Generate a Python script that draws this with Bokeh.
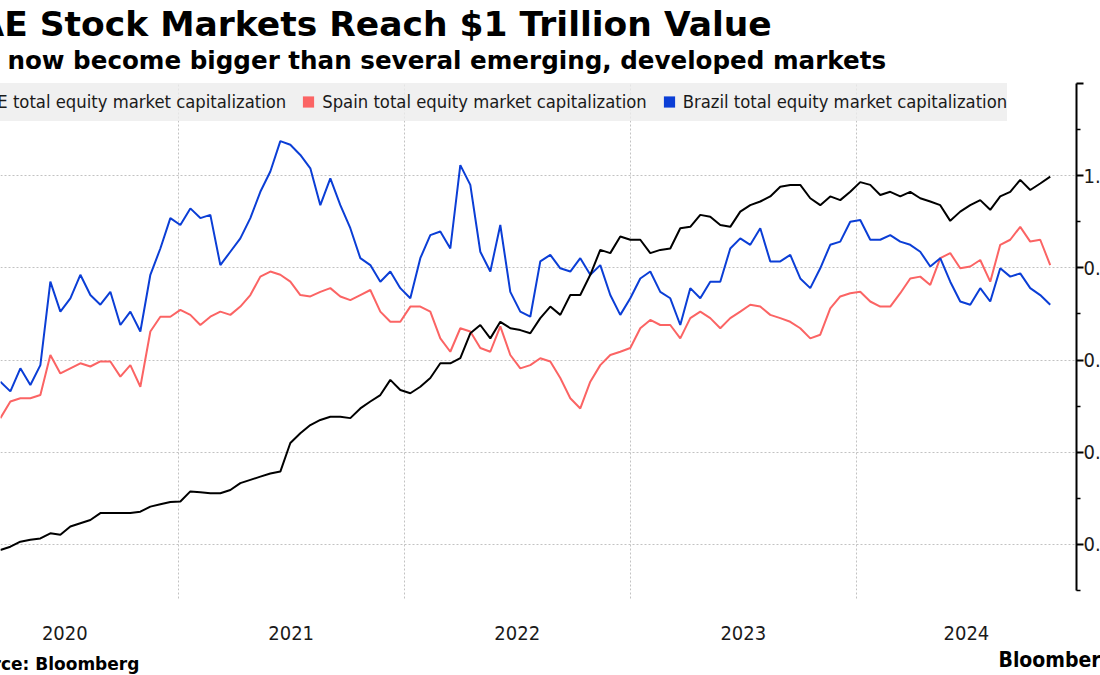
import pandas as pd
from bokeh.plotting import figure
from bokeh.models import (Range1d, LinearAxis, FixedTicker, Grid, Label, Legend, LegendItem,
                          PrintfTickFormatter, CustomJSTickFormatter, ColumnDataSource,
                          GlobalInlineStyleSheet)
from bokeh.embed import file_html
from bokeh.resources import INLINE

# ---------------- data (USD trillions) ----------------
title_text = "UAE Stock Markets Reach $1 Trillion Value"
subtitle_text = "UAE has now become bigger than several emerging, developed markets"
source_text = "Source: Bloomberg"
brand_text = "Bloomberg"
series_names = ["UAE total equity market capitalization",
                "Spain total equity market capitalization",
                "Brazil total equity market capitalization"]

first_date = "2020-03-20"
last_date = "2024-11-09"

uae = [0.188, 0.195, 0.206, 0.210, 0.213, 0.224, 0.221, 0.239, 0.246, 0.253,
       0.268, 0.268, 0.268, 0.268, 0.271, 0.282, 0.287, 0.292, 0.293, 0.315,
       0.313, 0.311, 0.311, 0.318, 0.333, 0.340, 0.347, 0.354, 0.358,
       0.420, 0.441, 0.459, 0.470, 0.477, 0.477, 0.474, 0.495, 0.510, 0.524,
       0.557, 0.535, 0.528, 0.542, 0.561, 0.593, 0.593, 0.604, 0.658, 0.676,
       0.647, 0.683, 0.669, 0.665, 0.658, 0.691,
       0.716, 0.698, 0.741, 0.741, 0.785, 0.839, 0.832, 0.868, 0.861, 0.861,
       0.832, 0.839, 0.842, 0.886, 0.889, 0.915, 0.911, 0.893, 0.889, 0.922,
       0.936, 0.944, 0.955, 0.976, 0.980, 0.980, 0.951,
       0.936, 0.955, 0.947, 0.965, 0.986, 0.980, 0.958, 0.965, 0.955, 0.965,
       0.951, 0.944, 0.936, 0.902, 0.922, 0.936, 0.947, 0.926, 0.955, 0.965,
       0.991, 0.969, 0.983, 0.998]

spain = [0.474, 0.510, 0.517, 0.517, 0.524, 0.611, 0.571, 0.582, 0.593, 0.586,
         0.597, 0.597, 0.564, 0.589, 0.542, 0.662, 0.694, 0.694, 0.709, 0.698,
         0.676, 0.694, 0.705, 0.698, 0.716, 0.741, 0.781, 0.792, 0.785,
         0.770, 0.741, 0.738, 0.748, 0.756, 0.738, 0.730, 0.741, 0.752, 0.705,
         0.683, 0.683, 0.716, 0.716, 0.705, 0.647, 0.618, 0.669, 0.662, 0.626,
         0.618, 0.673, 0.611, 0.582, 0.589, 0.604,
         0.597, 0.561, 0.517, 0.495, 0.553, 0.589, 0.611, 0.618, 0.626, 0.669,
         0.687, 0.676, 0.676, 0.647, 0.691, 0.705, 0.691, 0.669, 0.691, 0.705,
         0.720, 0.716, 0.698, 0.691, 0.683, 0.669, 0.647,
         0.655, 0.712, 0.738, 0.745, 0.748, 0.727, 0.716, 0.716, 0.745, 0.777,
         0.781, 0.763, 0.821, 0.832, 0.799, 0.803, 0.817, 0.770, 0.850, 0.861,
         0.889, 0.857, 0.861, 0.806]

brazil = [0.553, 0.532, 0.582, 0.546, 0.589, 0.770, 0.705, 0.734, 0.785, 0.741,
          0.720, 0.748, 0.676, 0.705, 0.662, 0.785, 0.842, 0.908, 0.893, 0.929,
          0.908, 0.915, 0.806, 0.835, 0.864, 0.908, 0.965, 1.009, 1.075,
          1.067, 1.045, 1.016, 0.936, 0.994, 0.936, 0.886, 0.821, 0.806, 0.770,
          0.792, 0.756, 0.734, 0.821, 0.871, 0.879, 0.842, 1.023, 0.980, 0.835,
          0.792, 0.893, 0.748, 0.705, 0.694, 0.814,
          0.828, 0.799, 0.792, 0.821, 0.785, 0.806, 0.741, 0.698, 0.734, 0.777,
          0.792, 0.748, 0.734, 0.676, 0.756, 0.734, 0.770, 0.770, 0.842, 0.864,
          0.850, 0.886, 0.814, 0.814, 0.828, 0.777, 0.756,
          0.799, 0.850, 0.857, 0.900, 0.904, 0.861, 0.861, 0.871, 0.857, 0.850,
          0.835, 0.803, 0.821, 0.770, 0.727, 0.720, 0.756, 0.727, 0.799, 0.781,
          0.788, 0.756, 0.741, 0.720]

years = [2020, 2021, 2022, 2023, 2024]
y_ticks = [0.2, 0.4, 0.6, 0.8, 1.0, 1.2]
y_minor = [0.1, 0.3, 0.5, 0.7, 0.9, 1.1]

# ---------------- styling ----------------
UAE_C = "#000000"
SPAIN_C = "#fb6464"
BRAZIL_C = "#0b3ed6"
GRID_C = "#c2c2c2"
COND = "DejaVu Sans Condensed, DejaVu Sans"

dates = pd.date_range(first_date, last_date, periods=len(uae))
x_start = pd.Timestamp("2020-03-20 05:00")
x_end = pd.Timestamp("2024-12-21 10:00")


def ms(ts):
    return (pd.Timestamp(ts) - pd.Timestamp("1970-01-01")).total_seconds() * 1000.0


jan_ticks = [ms(f"{y}-01-01") for y in years[1:]]
mid_ticks = []
for y in years:
    a = pd.Timestamp(f"{y}-01-01")
    b = min(pd.Timestamp(f"{y + 1}-01-01"), x_end)
    mid_ticks.append(ms(a + (b - a) / 2))

p = figure(frame_width=1076, frame_height=507,
           x_range=Range1d(x_start, x_end), y_range=Range1d(0.1, 1.2),
           x_axis_type=None, y_axis_type=None,
           output_backend="svg", toolbar_location=None,
           min_border_left=0, min_border_right=0, min_border_top=83, min_border_bottom=85,
           background_fill_color="white", border_fill_color="white",
           outline_line_color=None)
p.stylesheets = [GlobalInlineStyleSheet(css="html, body { margin: 0 !important; padding: 0 !important; overflow: hidden !important; }")]

# grids
p.add_layout(Grid(dimension=0, ticker=FixedTicker(ticks=jan_ticks),
                  grid_line_color=GRID_C, grid_line_dash="2 2", grid_line_width=1))
p.add_layout(Grid(dimension=1, ticker=FixedTicker(ticks=y_ticks),
                  grid_line_color=GRID_C, grid_line_dash="2 2", grid_line_width=1))

# year separators below the frame
sep_axis = LinearAxis(ticker=FixedTicker(ticks=jan_ticks),
                      formatter=CustomJSTickFormatter(code="return ''"),
                      axis_line_color=None, major_tick_out=8, major_tick_in=0,
                      major_tick_line_color=GRID_C, major_tick_line_dash="2 2",
                      minor_tick_out=0, minor_tick_in=0,
                      major_label_text_font_size="0px", major_label_standoff=0)
p.add_layout(sep_axis, "below")

# year labels
year_axis = LinearAxis(ticker=FixedTicker(ticks=mid_ticks),
                       formatter=CustomJSTickFormatter(code="return String(new Date(tick).getUTCFullYear())"),
                       axis_line_color=None, major_tick_out=0, major_tick_in=0,
                       minor_tick_out=0, minor_tick_in=0,
                       major_label_text_font=COND, major_label_text_font_size="20px",
                       major_label_text_color="#1a1a1a", major_label_standoff=27)
p.add_layout(year_axis, "below")

# right value axis
y_axis = LinearAxis(ticker=FixedTicker(ticks=y_ticks, minor_ticks=y_minor),
                    formatter=PrintfTickFormatter(format="%.1fT"),
                    major_label_overrides={1.2: ""},
                    axis_line_color="black", axis_line_width=2,
                    major_tick_out=7, major_tick_in=0, major_tick_line_width=2,
                    major_tick_line_color="black",
                    minor_tick_out=4, minor_tick_in=0, minor_tick_line_width=1.5,
                    minor_tick_line_color="black",
                    major_label_standoff=0, major_label_text_font=COND,
                    major_label_text_font_size="20px", major_label_text_color="#1a1a1a")
p.add_layout(y_axis, "right")

# series
src = ColumnDataSource(dict(date=dates, uae=uae, spain=spain, brazil=brazil))
p.line("date", "spain", source=src, line_color=SPAIN_C, line_width=2)
p.line("date", "brazil", source=src, line_color=BRAZIL_C, line_width=2)
p.line("date", "uae", source=src, line_color=UAE_C, line_width=2)

# legend swatches (proxy renderers with no visible point)
sw = [p.scatter(x=[dates[0]], y=[float("nan")], marker="square", size=11,
                fill_color=c, line_color=None)
      for c in (UAE_C, SPAIN_C, BRAZIL_C)]
legend = Legend(items=[LegendItem(label=n, renderers=[r]) for n, r in zip(series_names, sw)],
                orientation="horizontal", location=(-54, 469),
                glyph_width=28, glyph_height=39, label_standoff=0, spacing=8,
                padding=0, margin=0, label_height=39,
                label_text_font=COND, label_text_font_size="18.3px", label_text_color="#1a1a1a",
                background_fill_color="#ececec", background_fill_alpha=0.8,
                border_line_color=None)
p.add_layout(legend)

# texts (placed in side panels so they are not clipped to the frame)
p.add_layout(Label(x=-50, y=23.5, x_units="canvas", y_units="canvas", text=title_text,
                   text_font="DejaVu Sans", text_font_style="bold", text_font_size="34.5px",
                   text_color="black", text_baseline="middle"), "above")
p.add_layout(Label(x=-114, y=60, x_units="canvas", y_units="canvas", text=subtitle_text,
                   text_font="DejaVu Sans", text_font_style="bold", text_font_size="24.6px",
                   text_color="black", text_baseline="middle"), "above")
p.add_layout(Label(x=-44, y=663, x_units="canvas", y_units="canvas", text=source_text,
                   text_font="DejaVu Sans", text_font_style="bold", text_font_size="17px",
                   text_color="black", text_baseline="middle"), "below")
p.add_layout(Label(x=998, y=659, x_units="canvas", y_units="canvas", text=brand_text,
                   text_font=COND, text_font_style="bold", text_font_size="21px",
                   text_color="black", text_baseline="middle"), "below")

open("out.html", "w").write(file_html(p, INLINE))
